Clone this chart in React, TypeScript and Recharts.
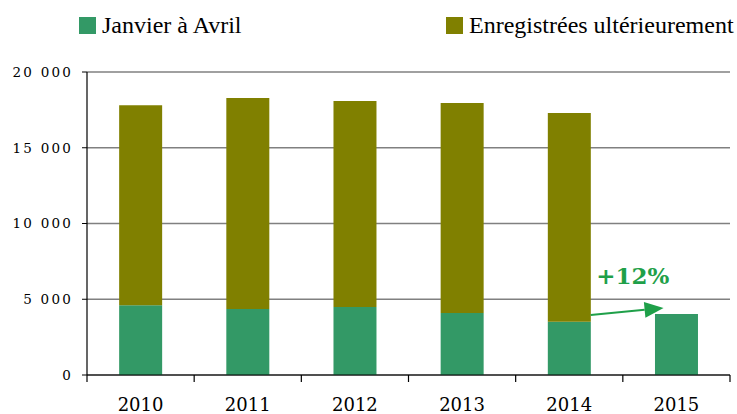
import { BarChart, Bar, XAxis, YAxis, CartesianGrid, ReferenceLine } from 'recharts';

const years = ['2010', '2011', '2012', '2013', '2014', '2015'];
const janvierAvril = [4600, 4360, 4490, 4090, 3520, 4030];
const ulterieur = [13200, 13920, 13600, 13860, 13770, 0];
const yTicks = [0, 5000, 10000, 15000, 20000];

const GREEN = '#339966';
const OLIVE = '#808000';
const ARROW = '#1fa049';
const FONT = 'DejaVu Serif, Liberation Serif, serif';

const data = years.map((year, i) => ({
  year,
  janvier: janvierAvril[i],
  ulterieur: ulterieur[i],
}));

const formatThousands = (v: number) =>
  v >= 1000 ? `${Math.floor(v / 1000)} ${String(v % 1000).padStart(3, '0')}` : String(v);

const YearTick = ({ x, y, payload, index }: any) => {
  const half = payload?.offset ?? 53.5;
  return (
    <g>
      <line x1={x - half} y1={y} x2={x - half} y2={y + 7} stroke="#000" strokeWidth={1.2} />
      {index === years.length - 1 && (
        <line x1={x + half} y1={y} x2={x + half} y2={y + 7} stroke="#000" strokeWidth={1.2} />
      )}
      <text x={x} y={y + 36} textAnchor="middle" fontFamily={FONT} fontSize={18} fill="#000">
        {payload.value}
      </text>
    </g>
  );
};

const GrowthArrow = (props: any) => {
  const { x1, y1, x2, y2 } = props;
  const band = x2 - x1;
  const sx = x1 + band * 0.2;
  const tx = x2 - band * 0.12;
  const ang = Math.atan2(y2 - y1, tx - sx);
  const len = 19;
  const w = 8;
  const bx = tx - len * Math.cos(ang);
  const by = y2 - len * Math.sin(ang);
  const px = -Math.sin(ang) * w;
  const py = Math.cos(ang) * w;
  return (
    <g>
      <line x1={sx} y1={y1} x2={bx} y2={by} stroke={ARROW} strokeWidth={2} />
      <polygon
        points={`${tx},${y2} ${bx + px},${by + py} ${bx - px},${by - py}`}
        fill={ARROW}
      />
      <text
        x={(x1 + x2) / 2 + 10}
        y={y2 - 24}
        textAnchor="middle"
        fontFamily={FONT}
        fontWeight="bold"
        fontSize={23}
        fill={ARROW}
      >
        +12%
      </text>
    </g>
  );
};

function Legend() {
  const item = (color: string, label: string, left: number) => (
    <div style={{ position: 'absolute', left, top: 10, height: 30, display: 'flex', alignItems: 'center' }}>
      <div style={{ width: 17, height: 17, background: color, marginRight: 6 }} />
      <span
        style={{
          fontFamily: '"Liberation Serif", serif',
          fontSize: 24,
          lineHeight: '30px',
          whiteSpace: 'nowrap',
        }}
      >
        {label}
      </span>
    </div>
  );
  return (
    <>
      {item(GREEN, 'Janvier à Avril', 79)}
      {item(OLIVE, 'Enregistrées ultérieurement', 446)}
    </>
  );
}

export default function App() {
  return (
    <div style={{ position: 'absolute', left: 0, top: 0, width: 737, height: 414, background: '#fff' }}>
      <Legend />
      <BarChart
        width={737}
        height={414}
        data={data}
        margin={{ top: 72, right: 7, left: 0, bottom: 9 }}
        barCategoryGap="30%"
      >
        <CartesianGrid vertical={false} stroke="#808080" strokeWidth={1.5} />
        <XAxis
          dataKey="year"
          tickLine={false}
          tickSize={0}
          tickMargin={0}
          axisLine={{ stroke: '#000', strokeWidth: 1.2 }}
          tick={<YearTick />}
          interval={0}
          height={30}
        />
        <YAxis
          width={87}
          domain={[0, 20000]}
          ticks={yTicks}
          tickFormatter={formatThousands}
          axisLine={{ stroke: '#000', strokeWidth: 1.2 }}
          tickLine={{ stroke: '#000' }}
          tickSize={5}
          tickMargin={9}
          tick={{ fill: '#000', fontSize: 13.5, fontFamily: FONT, letterSpacing: 2.2 }}
        />
        <Bar dataKey="janvier" stackId="a" fill={GREEN} isAnimationActive={false} />
        <Bar dataKey="ulterieur" stackId="a" fill={OLIVE} isAnimationActive={false} />
        <ReferenceLine
          segment={[
            { x: '2014', y: 3960 },
            { x: '2015', y: 4420 },
          ]}
          shape={GrowthArrow}
          ifOverflow="visible"
        />
      </BarChart>
    </div>
  );
}
